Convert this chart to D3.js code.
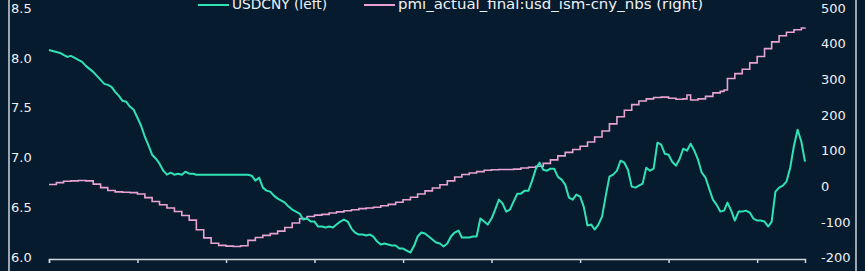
<!DOCTYPE html>
<html>
<head>
<meta charset="utf-8">
<script src="https://cdn.jsdelivr.net/npm/d3@7"></script>
<style>
  html, body { margin: 0; padding: 0; background: #061b2e; }
  svg { display: block; }
</style>
</head>
<body>
<div id="chart"></div>
<script>
// monthly observations, Nov 2005 .. Dec 2022
const startMonth = "2005-11-01";
const endMonth = "2022-12-01";

// USDCNY (left axis)
const usdcny = [
  8.08, 8.07,
  8.06, 8.05, 8.03, 8.01, 8.02, 8.00, 7.98, 7.96, 7.92, 7.89, 7.86, 7.82, // 2006
  7.78, 7.74, 7.73, 7.71, 7.66, 7.62, 7.57, 7.56, 7.51, 7.48, 7.40, 7.32, // 2007
  7.21, 7.12, 7.03, 6.99, 6.94, 6.87, 6.83, 6.85, 6.83, 6.84, 6.83, 6.86, // 2008
  6.84, 6.84, 6.83, 6.83, 6.83, 6.83, 6.83, 6.83, 6.83, 6.83, 6.83, 6.83, // 2009
  6.83, 6.83, 6.83, 6.83, 6.83, 6.82, 6.77, 6.80, 6.70, 6.67, 6.66, 6.62, // 2010
  6.59, 6.57, 6.55, 6.51, 6.48, 6.46, 6.44, 6.38, 6.39, 6.36, 6.36, 6.31, // 2011
  6.31, 6.30, 6.31, 6.30, 6.33, 6.36, 6.38, 6.36, 6.29, 6.25, 6.23, 6.23, // 2012
  6.22, 6.23, 6.21, 6.16, 6.13, 6.14, 6.13, 6.12, 6.12, 6.09, 6.09, 6.07, // 2013
  6.05, 6.12, 6.21, 6.25, 6.24, 6.21, 6.18, 6.15, 6.14, 6.11, 6.14, 6.21, // 2014
  6.25, 6.27, 6.20, 6.20, 6.20, 6.21, 6.21, 6.39, 6.36, 6.33, 6.39, 6.48, // 2015
  6.58, 6.54, 6.46, 6.48, 6.56, 6.64, 6.64, 6.67, 6.67, 6.77, 6.89, 6.95, // 2016
  6.88, 6.87, 6.89, 6.89, 6.81, 6.78, 6.73, 6.60, 6.58, 6.63, 6.61, 6.51, // 2017
  6.32, 6.33, 6.28, 6.33, 6.41, 6.62, 6.81, 6.83, 6.87, 6.97, 6.95, 6.88, // 2018
  6.71, 6.70, 6.72, 6.74, 6.90, 6.87, 6.89, 7.15, 7.13, 7.04, 7.03, 6.96, // 2019
  6.92, 6.99, 7.09, 7.07, 7.14, 7.07, 6.98, 6.85, 6.80, 6.69, 6.58, 6.53, // 2020
  6.46, 6.47, 6.55, 6.47, 6.37, 6.46, 6.46, 6.47, 6.45, 6.39, 6.37, 6.37, // 2021
  6.36, 6.31, 6.36, 6.66, 6.70, 6.72, 6.76, 6.90, 7.12, 7.28, 7.16, 6.96  // 2022
];

// pmi_actual_final:usd_ism-cny_nbs (right axis)
const pmiSpread = [
  5, 5,
  10, 10, 14, 14, 15, 15, 16, 16, 15, 15, 6, 6,                              // 2006
  -4, -4, -12, -12, -16, -16, -17, -17, -18, -18, -22, -22,                  // 2007
  -32, -32, -43, -43, -52, -52, -61, -61, -71, -71, -82, -82,                // 2008
  -95, -95, -122, -122, -145, -145, -160, -160, -166, -166, -168, -168,      // 2009
  -169, -169, -167, -167, -152, -152, -144, -144, -138, -138, -133, -133,    // 2010
  -126, -126, -116, -116, -103, -103, -91, -91, -85, -85, -81, -81,          // 2011
  -79, -79, -75, -75, -72, -72, -69, -69, -66, -66, -63, -63,                // 2012
  -61, -61, -59, -59, -55, -55, -51, -51, -45, -45, -38, -38,                // 2013
  -31, -31, -22, -22, -13, -13, -5, -5, 4, 4, 15, 15,                        // 2014
  26, 26, 33, 33, 37, 37, 41, 41, 45, 45, 46, 46,                            // 2015
  47, 47, 47, 47, 48, 48, 51, 51, 53, 53, 56, 56,                            // 2016
  64, 64, 74, 74, 85, 85, 95, 95, 103, 103, 112, 112,                        // 2017
  124, 124, 138, 138, 155, 155, 175, 175, 195, 195, 213, 213,                // 2018
  229, 229, 239, 239, 245, 245, 249, 249, 250, 250, 247, 247,                // 2019
  244, 244, 245, 256, 242, 242, 245, 245, 252, 252, 262, 262,                // 2020
  266, 270, 302, 302, 316, 316, 328, 328, 346, 346, 364, 364,                // 2021
  386, 386, 405, 405, 422, 422, 432, 432, 439, 439, 444, 445                 // 2022
];

const leftTicks = [6.0, 6.5, 7.0, 7.5, 8.0, 8.5];
const rightTicks = [-200, -100, 0, 100, 200, 300, 400, 500];
const xTickDates = ["2005-11-01", "2007-11-01", "2009-11-01", "2011-11-01", "2013-11-01",
                    "2015-11-01", "2017-11-01", "2019-11-01", "2021-11-01"];
const seriesNames = ["USDCNY (left)", "pmi_actual_final:usd_ism-cny_nbs (right)"];

function drawChart() {
    const W = 865, H = 271;
    const bg = "#061b2e";
    const cnyColor = "#2fe3b6";
    const pmiColor = "#e8a2d6";
    const axisColor = "#cdd5dc";
    const textColor = "#eef1f4";
    const font = "'DejaVu Sans', sans-serif";

    const parse = d3.timeParse("%Y-%m-%d");
    const months = d3.timeMonth.range(parse(startMonth), d3.timeMonth.offset(parse(endMonth), 1));

    const svg = d3.select("#chart")
        .append("svg")
        .attr("width", W)
        .attr("height", H);

    svg.append("rect")
        .attr("width", W)
        .attr("height", H)
        .attr("fill", bg);

    // scales
    const x = d3.scaleTime()
        .domain([parse(startMonth), parse(endMonth)])
        .range([49, 805]);

    const yLeft = d3.scaleLinear()
        .domain([6, 8.5])
        .range([257.5, 8]);

    const yRight = d3.scaleLinear()
        .domain([-200, 500])
        .range([257.5, 8]);

    // spines
    svg.append("line")
        .attr("x1", 9).attr("x2", 9)
        .attr("y1", 0).attr("y2", H)
        .attr("stroke", axisColor)
        .attr("stroke-width", 1.5);

    svg.append("line")
        .attr("x1", 856).attr("x2", 856)
        .attr("y1", 0).attr("y2", H)
        .attr("stroke", axisColor)
        .attr("stroke-width", 1.5);

    // x axis (labels fall outside the frame)
    const xAxis = svg.append("g")
        .attr("transform", "translate(0,259)")
        .call(d3.axisBottom(x)
            .tickValues(xTickDates.map(parse))
            .tickSize(4)
            .tickFormat(""));
    xAxis.selectAll("path, line")
        .attr("stroke", axisColor)
        .attr("stroke-width", 1.5);

    // left axis labels
    const yAxisL = svg.append("g")
        .attr("transform", "translate(9,0)")
        .call(d3.axisRight(yLeft)
            .tickValues(leftTicks)
            .tickSize(0)
            .tickPadding(2)
            .tickFormat(d3.format(".1f")));
    yAxisL.select(".domain").remove();

    // right axis labels (plain hyphen for negatives)
    const yAxisR = svg.append("g")
        .attr("transform", "translate(819,0)")
        .call(d3.axisRight(yRight)
            .tickValues(rightTicks)
            .tickSize(0)
            .tickPadding(2)
            .tickFormat(d => String(d)));
    yAxisR.select(".domain").remove();

    svg.selectAll(".tick text")
        .style("font-family", font)
        .style("font-size", "13px")
        .attr("fill", textColor);

    // lines
    const cnyLine = d3.line()
        .x((d, i) => x(months[i]))
        .y(d => yLeft(d));

    const pmiLine = d3.line()
        .curve(d3.curveStepAfter)
        .x((d, i) => x(months[i]))
        .y(d => yRight(d));

    svg.append("path")
        .datum(pmiSpread)
        .attr("fill", "none")
        .attr("stroke", pmiColor)
        .attr("stroke-width", 1.6)
        .attr("d", pmiLine);

    svg.append("path")
        .datum(usdcny)
        .attr("fill", "none")
        .attr("stroke", cnyColor)
        .attr("stroke-width", 2)
        .attr("stroke-linejoin", "round")
        .attr("d", cnyLine);

    // legend
    const legend = svg.append("g").attr("class", "legend");
    const items = [
        {name: seriesNames[0], color: cnyColor, x: 198, len: 95},
        {name: seriesNames[1], color: pmiColor, x: 364, len: 305}
    ];
    items.forEach(it => {
        legend.append("line")
            .attr("x1", it.x).attr("x2", it.x + 31)
            .attr("y1", 5).attr("y2", 5)
            .attr("stroke", it.color)
            .attr("stroke-width", 2);
        legend.append("text")
            .attr("x", it.x + 34)
            .attr("y", 8.5)
            .attr("textLength", it.len)
            .attr("lengthAdjust", "spacingAndGlyphs")
            .style("font-family", font)
            .style("font-size", "13.5px")
            .attr("fill", textColor)
            .text(it.name);
    });
}

drawChart();
</script>
</body>
</html>
